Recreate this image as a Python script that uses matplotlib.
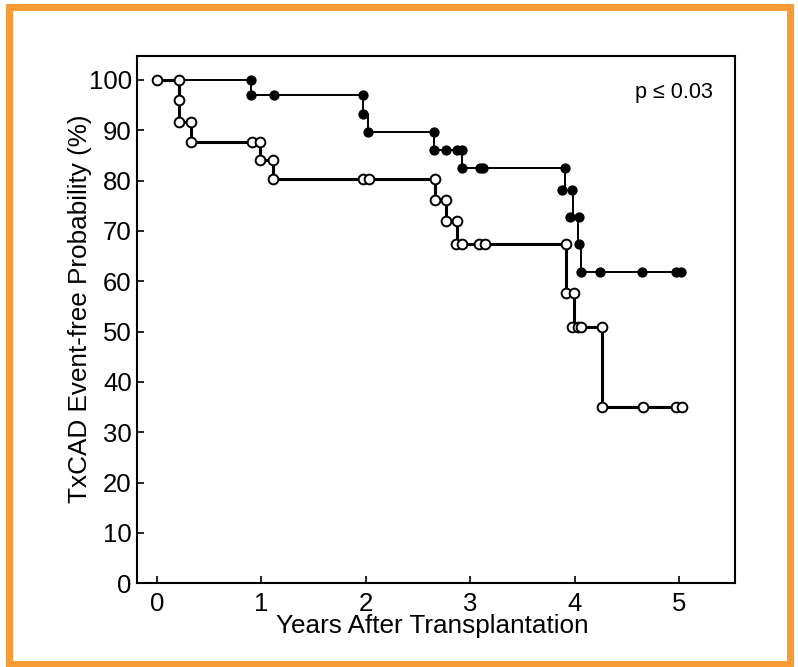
import matplotlib.pyplot as plt
from matplotlib.patches import Rectangle

plt.rcParams['font.family'] = ['Liberation Sans', 'DejaVu Sans']

# === DATA ===
# step curves: time of each drop (years) and event-free % after it
open_t = [0, 0.21, 0.33, 0.99, 1.11, 2.66, 2.77, 2.87, 3.92, 3.99, 4.26, 5.03]
open_s = [100, 91.7, 87.7, 84.0, 80.3, 76.2, 71.9, 67.4, 57.6, 51.0, 35.0, 35.0]

filled_t = [0, 0.90, 1.97, 2.02, 2.65, 2.92, 3.91, 3.98, 4.03, 4.06, 5.02]
filled_s = [100, 97.0, 93.2, 89.6, 86.0, 82.4, 78.1, 72.8, 67.4, 61.9, 61.9]

# circle markers on the curves
open_mx = [0, 0.21, 0.21, 0.21, 0.33, 0.33, 0.91, 0.99, 0.99, 1.11, 1.11,
           1.97, 2.03, 2.66, 2.66, 2.77, 2.77, 2.87, 2.86, 2.92, 3.08, 3.14,
           3.92, 3.92, 3.99, 3.97, 4.03, 4.06, 4.26, 4.26, 4.65, 4.97, 5.03]
open_my = [100, 100, 96.0, 91.7, 91.7, 87.7, 87.7, 87.7, 84.0, 84.0, 80.3,
           80.3, 80.3, 80.3, 76.2, 76.2, 71.9, 71.9, 67.4, 67.4, 67.4, 67.4,
           67.4, 57.6, 57.6, 51.0, 51.0, 51.0, 51.0, 35.0, 35.0, 35.0, 35.0]

filled_mx = [0.90, 0.90, 1.12, 1.97, 1.97, 2.02, 2.65, 2.65, 2.77, 2.87, 2.92,
             2.92, 3.09, 3.12, 3.91, 3.88, 3.97, 3.96, 4.04, 4.04, 4.06, 4.24,
             4.64, 4.97, 5.02]
filled_my = [100, 97.0, 97.0, 97.0, 93.2, 89.6, 89.6, 86.0, 86.0, 86.0, 86.0,
             82.4, 82.4, 82.4, 82.4, 78.1, 78.1, 72.8, 72.8, 67.4, 61.9, 61.9,
             61.9, 61.9, 61.9]

x_ticks = [0, 1, 2, 3, 4, 5]
y_ticks = [0, 10, 20, 30, 40, 50, 60, 70, 80, 90, 100]

# === PLOT ===
fig = plt.figure(figsize=(7.98, 6.67), dpi=100)
ax = fig.add_axes([0.172, 0.1255, 0.749, 0.791])

ax.step(filled_t, filled_s, where='post', color='black', lw=1.4, zorder=2)
ax.step(open_t, open_s, where='post', color='black', lw=2.2, zorder=2)
ax.plot(filled_mx, filled_my, 'o', ms=6.4, color='black', zorder=3)
ax.plot(open_mx, open_my, 'o', ms=7.0, mfc='white', mec='black', mew=1.4, zorder=4)

ax.set_xlim(-0.186, 5.534)
ax.set_ylim(0, 104.8)
ax.set_xticks(x_ticks)
ax.set_yticks(y_ticks)
ax.tick_params(direction='in', length=5, width=1.2, labelsize=18.5)
ax.tick_params(axis='x', pad=6)
ax.tick_params(axis='y', pad=4)
for sp in ax.spines.values():
    sp.set_linewidth(1.5)

ax.set_xlabel("Years After Transplantation", fontsize=18.8)
ax.xaxis.set_label_coords(0.493, -0.058)
ax.set_ylabel("TxCAD Event-free Probability (%)", fontsize=18.8)
ax.yaxis.set_label_coords(-0.076, 0.52)
ax.text(0.963, 0.93, "p \u2264 0.03", transform=ax.transAxes, ha='right',
        va='center', fontsize=15.5)

# orange frame round the picture
fig.add_artist(Rectangle((9 / 798, 3.5 / 667), 781 / 798, 656.5 / 667,
                         transform=fig.transFigure, fill=False,
                         edgecolor='#F89B32', lw=5))

fig.savefig("out.png", dpi=100)
